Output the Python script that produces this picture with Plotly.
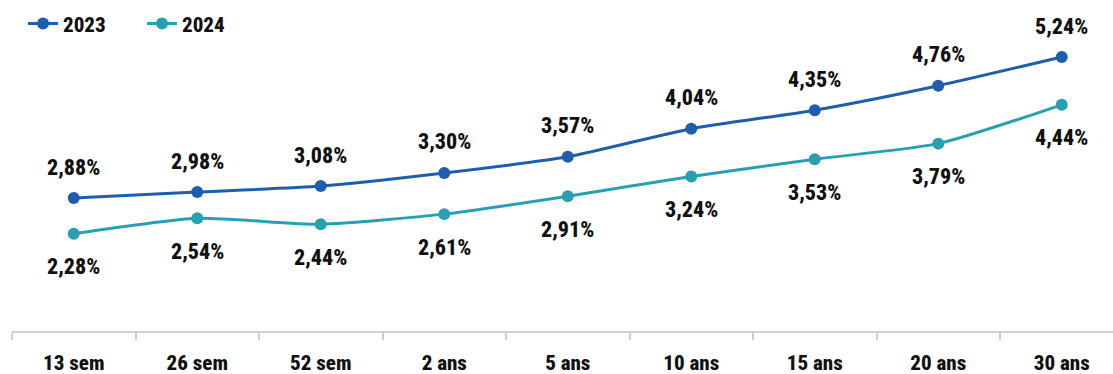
import plotly.graph_objects as go

categories = ["13 sem", "26 sem", "52 sem", "2 ans", "5 ans", "10 ans", "15 ans", "20 ans", "30 ans"]
values_2023 = [2.88, 2.98, 3.08, 3.30, 3.57, 4.04, 4.35, 4.76, 5.24]
values_2024 = [2.28, 2.54, 2.44, 2.61, 2.91, 3.24, 3.53, 3.79, 4.44]
series_names = ["2023", "2024"]
colors = ["#1e5eac", "#29a0b1"]

FONT = "Roboto Condensed, Open Sans Condensed, sans-serif"

fig = go.Figure()
for name, vals, col in zip(series_names, [values_2023, values_2024], colors):
    fig.add_trace(go.Scatter(
        x=categories, y=vals, name=name, mode="lines+markers",
        line=dict(color=col, width=3, shape="spline", smoothing=0.6),
        marker=dict(color=col, size=12),
    ))

def fmt(v):
    return f"{v:.2f}%".replace(".", ",")

for cat, v in zip(categories, values_2023):
    fig.add_annotation(x=cat, y=v, text=fmt(v), showarrow=False, yshift=31,
                       font=dict(family=FONT, size=22, color="#111111", weight=800))
for cat, v in zip(categories, values_2024):
    fig.add_annotation(x=cat, y=v, text=fmt(v), showarrow=False, yshift=-33,
                       font=dict(family=FONT, size=22, color="#111111", weight=800))

fig.update_layout(
    width=1113, height=374,
    margin=dict(l=12, r=0, t=0, b=43, autoexpand=False),
    plot_bgcolor="white", paper_bgcolor="white",
    font=dict(family=FONT, size=21, color="#111111", weight=800),
    showlegend=True,
    legend=dict(orientation="h", x=0.01, y=0.99, xref="paper", yref="paper",
                xanchor="left", yanchor="top",
                font=dict(family=FONT, size=21, color="#111111", weight=800),
                entrywidth=74, entrywidthmode="pixels",
                bgcolor="rgba(0,0,0,0)", tracegroupgap=0),
)
fig.update_xaxes(
    type="category", range=[-0.5, 8.415], automargin=False,
    showline=True, linecolor="#d0d0d0", linewidth=2,
    ticks="outside", tickson="boundaries", ticklen=7, tickcolor="#d0d0d0", tickwidth=2,
    ticklabelstandoff=12,
    showgrid=False, zeroline=False,
    tickfont=dict(family=FONT, size=21, color="#111111", weight=800),
)
fig.update_yaxes(range=[0.654, 6.194], visible=False, showgrid=False, zeroline=False,
                 automargin=False)

fig.write_html("out.html")
